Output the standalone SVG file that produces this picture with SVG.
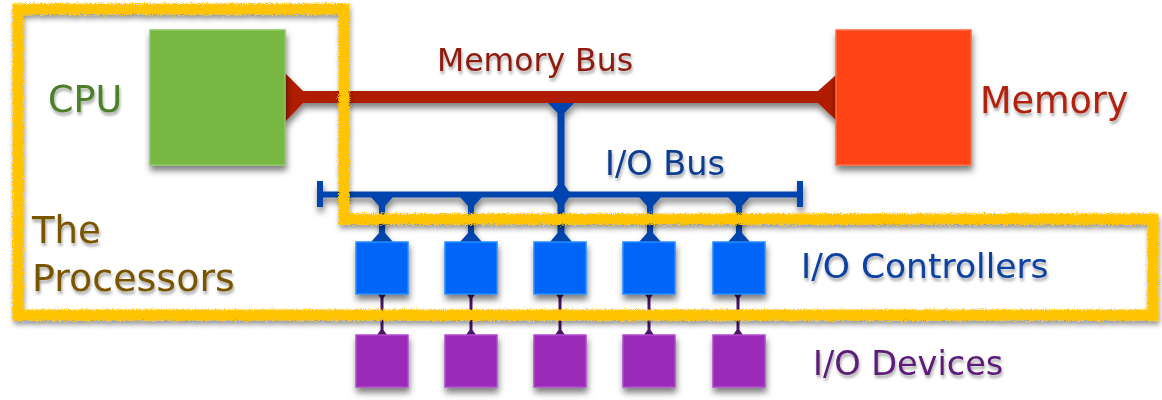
<svg xmlns="http://www.w3.org/2000/svg" width="1162" height="400" viewBox="0 0 1162 400">
  <defs>
    <filter id="sh" x="-20%" y="-20%" width="140%" height="160%">
      <feDropShadow dx="1" dy="5" stdDeviation="3.2" flood-color="#000" flood-opacity="0.5"/>
    </filter>
    <filter id="tsh" x="-10%" y="-20%" width="120%" height="160%">
      <feDropShadow dx="1" dy="3" stdDeviation="1.8" flood-color="#000" flood-opacity="0.35"/>
    </filter>
    <filter id="chalk" x="-3%" y="-5%" width="106%" height="112%">
      <feTurbulence type="fractalNoise" baseFrequency="0.9" numOctaves="2" seed="3" result="n"/>
      <feDisplacementMap in="SourceGraphic" in2="n" scale="6" xChannelSelector="R" yChannelSelector="G" result="d"/>
      <feGaussianBlur in="d" stdDeviation="2.5" result="b"/>
      <feOffset in="b" dx="1" dy="4" result="o"/>
      <feColorMatrix in="o" type="matrix" values="0 0 0 0 0  0 0 0 0 0  0 0 0 0 0  0 0 0 0.4 0" result="s"/>
      <feMerge><feMergeNode in="s"/><feMergeNode in="d"/></feMerge>
    </filter>
  </defs>
  <style>
    .lbl { font-family: "DejaVu Sans", "Liberation Sans", sans-serif; filter: url(#tsh); }
    .box { filter: url(#sh); }
    .ctrl { fill: #0066FA; stroke: #2A8CFF; stroke-width: 1.5; }
    .dev { fill: #9A2AB8; stroke: #AE4CCB; stroke-width: 1.5; }
    .red { fill: #B01C02; }
    .blue { fill: #0645AD; }
    .purple { fill: #4A1466; }
  </style>
  <rect width="1162" height="400" fill="#FFFFFF"/>

  <g id="connectors">
    <g id="memory-bus" class="box">
      <rect class="red" x="300" y="91" width="520" height="12"/>
      <polygon class="red" points="285,73 303,91 303,103 285,122"/>
      <polygon class="red" points="836,75 818,91 818,103 836,120"/>
    </g>
    <g id="io-bus" class="box">
      <rect class="blue" x="320" y="191.5" width="480" height="6"/>
      <rect class="blue" x="317" y="181" width="6" height="26"/>
      <rect class="blue" x="797" y="181" width="6" height="26"/>
      <polygon class="blue" points="548,103 574,103 564.5,113 564.5,185 571,194.5 564.5,204 564.5,233 572,242 550,242 557.5,233 557.5,204 551,194.5 557.5,185 557.5,113"/>
      <polygon class="blue" points="371,197 393,197 385,206 385,233 393,242 371,242 379,233 379,206"/>
      <polygon class="blue" points="460,197 482,197 474,206 474,233 482,242 460,242 468,233 468,206"/>
      <polygon class="blue" points="639,197 661,197 653,206 653,233 661,242 639,242 647,233 647,206"/>
      <polygon class="blue" points="728,197 750,197 742,206 742,233 750,242 728,242 736,233 736,206"/>
    </g>
    <g id="device-links">
      <polygon class="purple" points="377,293 387,293 383.5,298 383.5,330 387,335 377,335 380.5,330 380.5,298"/>
      <polygon class="purple" points="466,293 476,293 472.5,298 472.5,330 476,335 466,335 469.5,330 469.5,298"/>
      <polygon class="purple" points="555,293 565,293 561.5,298 561.5,330 565,335 555,335 558.5,330 558.5,298"/>
      <polygon class="purple" points="644,293 654,293 650.5,298 650.5,330 654,335 644,335 647.5,330 647.5,298"/>
      <polygon class="purple" points="733,293 743,293 739.5,298 739.5,330 743,335 733,335 736.5,330 736.5,298"/>
    </g>
  </g>

  <g id="cpu">
    <rect class="box" x="150" y="30" width="135" height="135" fill="#78B843" stroke="#8CC862" stroke-width="1.5"/>
    <text class="lbl" x="48" y="112" font-size="36.5" fill="#4E7F2B">CPU</text>
  </g>
  <g id="memory">
    <rect class="box" x="836" y="30" width="135" height="135" fill="#FF4516" stroke="#FF6A42" stroke-width="1.5"/>
    <text class="lbl" x="980" y="113" font-size="36.5" fill="#B0200A">Memory</text>
  </g>
  <g id="memory-bus-label">
    <text class="lbl" x="437" y="71" font-size="31.5" fill="#8E1A0F">Memory Bus</text>
  </g>
  <g id="io-bus-label">
    <text class="lbl" x="605" y="175" font-size="33.5" fill="#0B3C90">I/O Bus</text>
  </g>

  <g id="controllers">
    <rect id="ctrl1" class="box ctrl" x="356" y="242" width="52" height="52"/>
    <rect id="ctrl2" class="box ctrl" x="445" y="242" width="52" height="52"/>
    <rect id="ctrl3" class="box ctrl" x="534" y="242" width="52" height="52"/>
    <rect id="ctrl4" class="box ctrl" x="623" y="242" width="52" height="52"/>
    <rect id="ctrl5" class="box ctrl" x="713" y="242" width="52" height="52"/>
    <text class="lbl" x="801" y="278" font-size="34.5" fill="#0A40A0">I/O Controllers</text>
  </g>
  <g id="devices">
    <rect id="dev1" class="box dev" x="356" y="335" width="52" height="52"/>
    <rect id="dev2" class="box dev" x="445" y="335" width="52" height="52"/>
    <rect id="dev3" class="box dev" x="534" y="335" width="52" height="52"/>
    <rect id="dev4" class="box dev" x="623" y="335" width="52" height="52"/>
    <rect id="dev5" class="box dev" x="713" y="335" width="52" height="52"/>
    <text class="lbl" x="813" y="375" font-size="33.5" fill="#5B1A78">I/O Devices</text>
  </g>

  <g id="processors">
    <text class="lbl" fill="#7A5500"><tspan x="32" y="243" font-size="37">The</tspan><tspan x="32" y="291" font-size="38">Processors</tspan></text>
    <path d="M18,9 H344 V219 H1153 V315 H18 Z" fill="none" stroke="#FFC400" stroke-width="11" stroke-linejoin="miter" filter="url(#chalk)"/>
  </g>
</svg>
